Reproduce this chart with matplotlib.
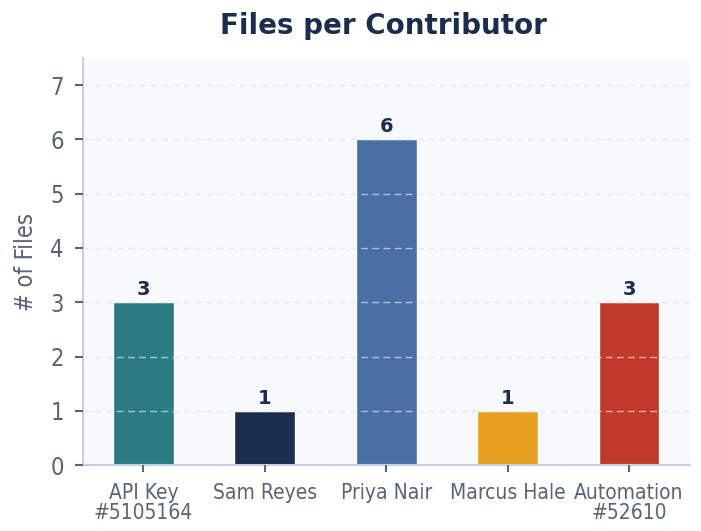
import matplotlib
matplotlib.use("Agg")
import matplotlib.pyplot as plt

categories = ["API Key\n#5105164", "Sam Reyes", "Priya Nair", "Marcus Hale", "Automation\n#52610"]
values = [3, 1, 6, 1, 3]
colors = ["#2a7b84", "#1b2d4f", "#4a6fa5", "#e8a020", "#c0392b"]

COND = dict(family="DejaVu Sans", stretch="condensed")

fig = plt.figure(figsize=(7.01, 5.31), dpi=100)
ax = fig.add_axes([0.118, 0.124, 0.866, 0.767])
ax.set_facecolor("#f7f9fc")

x = list(range(len(categories)))
bars = ax.bar(x, values, width=0.5, color=colors, edgecolor="white", linewidth=1, zorder=2)
for xi, v in zip(x, values):
    ax.text(xi, v + 0.06, str(v), ha="center", va="bottom", fontsize=14,
            fontweight="bold", color="#1b2d4f", zorder=4, family="DejaVu Sans")

ax.set_xlim(-0.5, 4.5)
ax.set_ylim(0, 7.5)
ax.set_yticks(range(0, 8))
ax.set_xticks(x)
ax.set_xticklabels(categories, fontsize=15, color="#5a6478", linespacing=1.0, **COND)
ax.set_yticklabels([str(i) for i in range(0, 8)], fontsize=17, color="#5a6478", **COND)
ax.tick_params(axis="y", color="#5a6478", length=6, width=1.5, pad=7.5)
ax.tick_params(axis="x", color="#5a6478", length=5, width=1.5, pad=8)

ax.grid(axis="y", linestyle=(0, (5, 3)), color="#dde3ec", linewidth=1, alpha=0.7, zorder=3)
ax.set_axisbelow(False)
for s in ["top", "right"]:
    ax.spines[s].set_visible(False)
for s in ["left", "bottom"]:
    ax.spines[s].set_color("#c8d0e0")
    ax.spines[s].set_linewidth(1.5)

ax.set_ylabel("# of Files", fontsize=17, color="#5a6478", labelpad=9, **COND)
fig.suptitle("Files per Contributor", fontsize=20, fontweight="bold", color="#1b2d4f", x=0.547, y=0.978)

fig.savefig("out.png", dpi=100)
